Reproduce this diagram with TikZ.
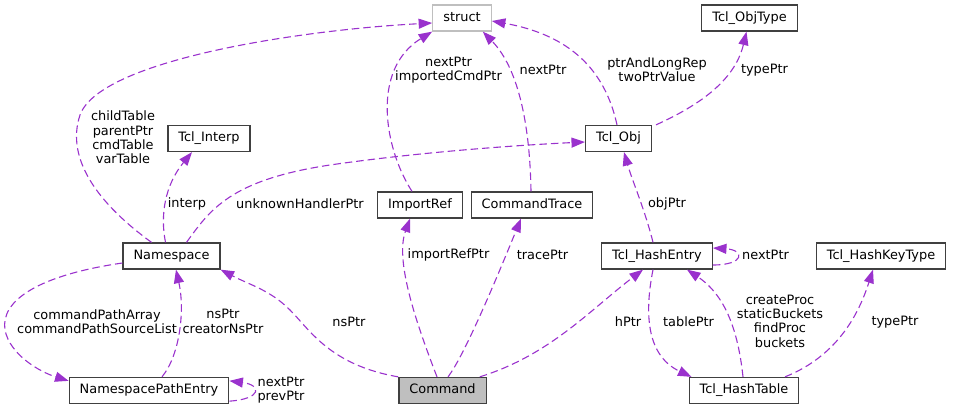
\documentclass[tikz,border=0pt]{standalone}
\usepackage{fontspec}
\setmainfont{DejaVu Sans}
\usepackage{tikz}
\usetikzlibrary{arrows.meta}
\definecolor{edgepurple}{HTML}{9A32CD}
\definecolor{boxgray}{HTML}{404040}
\definecolor{structgray}{HTML}{BFBFBF}

\begin{document}
\begin{tikzpicture}[x=1pt, y=-1pt,
  every node/.style={font=\fontsize{12.9pt}{14.3pt}\selectfont},
  cls/.style={draw=boxgray, line width=1.3pt, fill=white, inner xsep=10.5pt, inner ysep=0pt,
    text height=9.5pt, text depth=3pt, minimum height=26pt},
  ref/.style={draw=edgepurple, line width=1.1pt, dash pattern=on 7.5pt off 4pt,
    -{Triangle[length=13.5pt,width=10pt,fill=edgepurple]}},
  lbl/.style={align=center, inner sep=0pt}]
  \useasboundingbox (0,0) rectangle (953,411);

  \node[cls, draw=structgray] (struct) at (462,18) {struct};
  \node[cls] (objtype) at (749.5,18) {Tcl\_ObjType};
  \node[cls] (interp) at (209,138.5) {Tcl\_Interp};
  \node[cls] (tclobj) at (618.5,138.5) {Tcl\_Obj};
  \node[cls] (importref) at (420,205) {ImportRef};
  \node[cls] (cmdtrace) at (532,205) {CommandTrace};
  \node[cls] (ns) at (171.5,256) {Namespace};
  \node[cls] (hentry) at (657,256) {Tcl\_HashEntry};
  \node[cls] (hkeytype) at (881,256) {Tcl\_HashKeyType};
  \node[cls] (nspath) at (149,390.5) {NamespacePathEntry};
  \node[cls, fill=structgray] (cmd) at (442.5,390.5) {Command};
  \node[cls] (htable) at (744,390.5) {Tcl\_HashTable};

  \draw[ref] ([xshift=-20pt]ns.north) .. controls (100,205) and (65,160) .. (80,115)
    .. controls (100,60) and (300,30) .. ([yshift=-5pt]struct.west);
  \draw[ref] ([xshift=-8pt]importref.north) .. controls (385,150) and (370,70) .. (struct.south west);
  \draw[ref] ([xshift=-1pt]cmdtrace.north) .. controls (530,130) and (520,70) .. ([xshift=-9pt]struct.south east);
  \draw[ref] ([xshift=-1.5pt]tclobj.north) .. controls (605,70) and (570,35) .. ([yshift=-3pt]struct.east);
  \draw[ref] ([xshift=4pt]tclobj.north east) .. controls (700,105) and (735,80) .. ([xshift=-3pt]objtype.south);
  \draw[ref] ([xshift=-6pt]ns.north) .. controls (160,215) and (165,185) .. ([xshift=-17pt]interp.south);
  \draw[ref] ([xshift=15pt]ns.north) .. controls (210,210) and (230,180) .. (330,165)
    .. controls (420,152) and (520,145) .. ([yshift=-3.5pt]tclobj.west);
  \draw[ref] ([yshift=-7pt]ns.west) .. controls (40,275) and (0,300) .. (5,330)
    .. controls (10,355) and (40,372) .. ([yshift=-4pt]nspath.north west);
  \draw[ref] ([xshift=13pt]nspath.north) .. controls (180,355) and (185,310) .. ([xshift=4.5pt]ns.south);
  \draw[ref] ([yshift=3pt]nspath.south east) .. controls (262,399) and (262,385) .. ([yshift=-4pt]nspath.north east);
  \draw[ref] (cmd.north west) .. controls (330,365) and (310,330) .. (290,310)
    .. controls (270,290) and (250,285) .. (ns.south east);
  \draw[ref] ([xshift=-5.5pt]cmd.north) .. controls (415,320) and (395,260) .. ([xshift=-10pt]importref.south);
  \draw[ref] ([xshift=5.5pt]cmd.north) .. controls (465,355) and (500,270) .. ([xshift=-11pt]cmdtrace.south);
  \draw[ref] ([xshift=-7pt]cmd.north east) .. controls (550,355) and (590,310) .. ([xshift=-14pt]hentry.south);
  \draw[ref] ([xshift=-4pt]hentry.north) .. controls (645,210) and (632,180) .. ([xshift=5.5pt]tclobj.south);
  \draw[ref] ([yshift=-9pt]hentry.east) .. controls (745,265) and (745,250) .. ([yshift=8pt]hentry.east);
  \draw[ref] ([xshift=-4pt]hentry.south) .. controls (645,310) and (645,355) .. ([xshift=3pt]htable.north west);
  \draw[ref] ([xshift=-1pt]htable.north) .. controls (738,330) and (725,295) .. ([xshift=30pt]hentry.south);
  \draw[ref] ([xshift=41pt]htable.north) .. controls (840,355) and (860,310) .. ([xshift=-8pt]hkeytype.south);

  \node[lbl] (lchild) at (123,137.5) {childTable\\parentPtr\\cmdTable\\varTable};
  \node[lbl] (limported) at (448.5,70) {nextPtr\\importedCmdPtr};
  \node[lbl] (ltracenext) at (543,70) {nextPtr};
  \node[lbl] (lptrrep) at (657,70) {ptrAndLongRep\\twoPtrValue};
  \node[lbl] (lobjtype) at (764.5,70) {typePtr};
  \node[lbl] (linterp) at (187,204) {interp};
  \node[lbl] (lunknown) at (300,204) {unknownHandlerPtr};
  \node[lbl] (lcmdpath) at (97,321.5) {commandPathArray\\commandPathSourceList};
  \node[lbl] (lcreator) at (223,321.5) {nsPtr\\creatorNsPtr};
  \node[lbl] (lnextprev) at (281,390) {nextPtr\\prevPtr};
  \node[lbl] (lnsptr) at (349,322) {nsPtr};
  \node[lbl] (limportref) at (448.5,255) {importRefPtr};
  \node[lbl] (ltraceptr) at (542.5,255) {tracePtr};
  \node[lbl] (lobjptr) at (667,204) {objPtr};
  \node[lbl] (lhnext) at (765.5,255) {nextPtr};
  \node[lbl] (lhptr) at (628,322) {hPtr};
  \node[lbl] (ltableptr) at (688.5,322) {tablePtr};
  \node[lbl] (lbuckets) at (780,321) {createProc\\staticBuckets\\findProc\\buckets};
  \node[lbl] (lkeytype) at (895,322) {typePtr};
\end{tikzpicture}
\end{document}
